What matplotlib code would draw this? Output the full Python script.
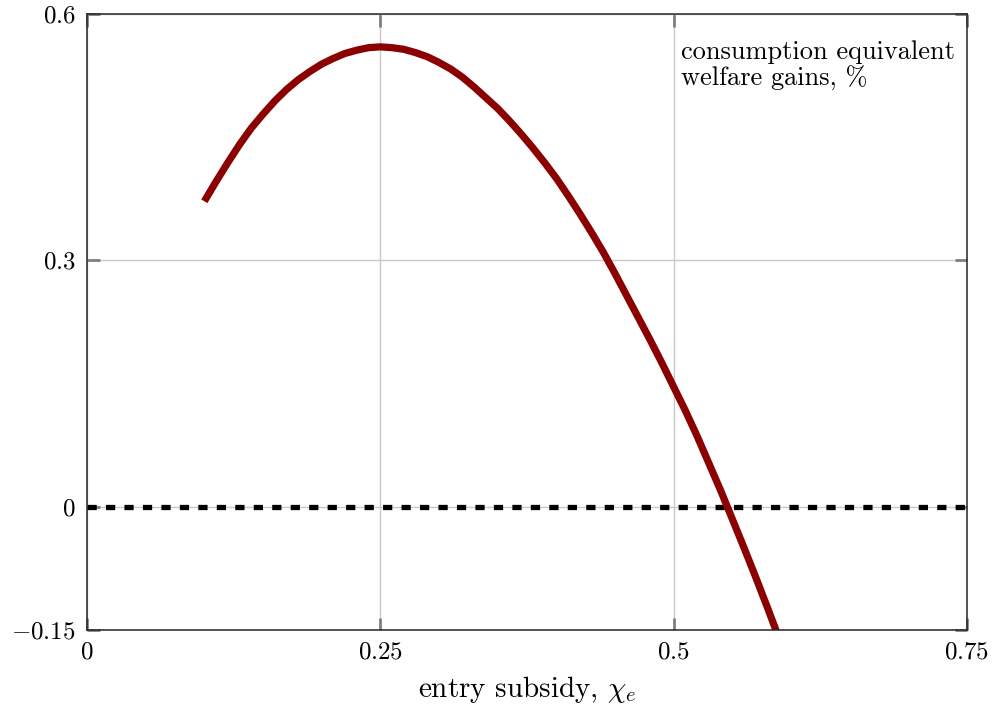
import matplotlib
matplotlib.use("Agg")
import matplotlib.pyplot as plt

# ---- data ----
subsidy = [0.10, 0.11, 0.12, 0.13, 0.14, 0.15, 0.16, 0.17, 0.18, 0.19,
           0.20, 0.21, 0.22, 0.23, 0.24, 0.25, 0.26, 0.27, 0.28, 0.29,
           0.30, 0.31, 0.32, 0.33, 0.34, 0.35, 0.36, 0.37, 0.38, 0.39,
           0.40, 0.41, 0.42, 0.43, 0.44, 0.45, 0.46, 0.47, 0.48, 0.49,
           0.50, 0.51, 0.52, 0.53, 0.54, 0.55, 0.56, 0.57, 0.58, 0.59]
welfare = [0.372, 0.396, 0.419, 0.441, 0.461, 0.478, 0.494, 0.508, 0.520, 0.530,
           0.539, 0.546, 0.552, 0.556, 0.559, 0.560, 0.559, 0.557, 0.553, 0.548,
           0.541, 0.533, 0.523, 0.511, 0.498, 0.485, 0.470, 0.454, 0.437, 0.419,
           0.400, 0.379, 0.357, 0.334, 0.310, 0.284, 0.257, 0.230, 0.203, 0.175,
           0.146, 0.117, 0.086, 0.053, 0.020, -0.015, -0.050, -0.086, -0.123, -0.161]

xticks = [0, 0.25, 0.5, 0.75]
xticklabels = ["$0$", "$0.25$", "$0.5$", "$0.75$"]
yticks = [-0.15, 0, 0.3, 0.6]
yticklabels = ["$-0.15$", "$0$", "$0.3$", "$0.6$"]

plt.rcParams["font.family"] = ["cmr10", "DejaVu Serif"]
plt.rcParams["mathtext.fontset"] = "cm"
plt.rcParams["axes.formatter.use_mathtext"] = True

fig = plt.figure(figsize=(9.93, 7.07), dpi=100)
ax = fig.add_axes([87/993, 1-630/707, 880/993, 616/707])

ax.set_xlim(0, 0.75)
ax.set_ylim(-0.15, 0.6)

ax.grid(True, color="#c8c8c8", linewidth=1.0, zorder=0)
ax.set_axisbelow(True)

ax.axhline(0, color="black", linewidth=3.8, dashes=(1.75, 1.75),
           dash_capstyle="butt", zorder=2)
ax.plot(subsidy, welfare, color="#8b0000", linewidth=5.2,
        solid_capstyle="butt", solid_joinstyle="round", zorder=3)

ax.set_xticks(xticks)
ax.set_xticklabels(xticklabels)
ax.set_yticks(yticks)
ax.set_yticklabels(yticklabels)
ax.tick_params(direction="in", length=9, width=2.0, color="#7f7f7f",
               top=True, right=True, labelsize=18, pad=8)

for s in ax.spines.values():
    s.set_color("#262626")
    s.set_linewidth(1.1)
    s.set_zorder(4)

ax.set_xlabel(r"entry subsidy, $\chi_e$", fontsize=21, labelpad=8)

ax.text(0.675, 0.958, "consumption equivalent\nwelfare gains, %",
        transform=ax.transAxes, ha="left", va="top", fontsize=19,
        linespacing=1.1)

fig.savefig("out.png", dpi=100)
